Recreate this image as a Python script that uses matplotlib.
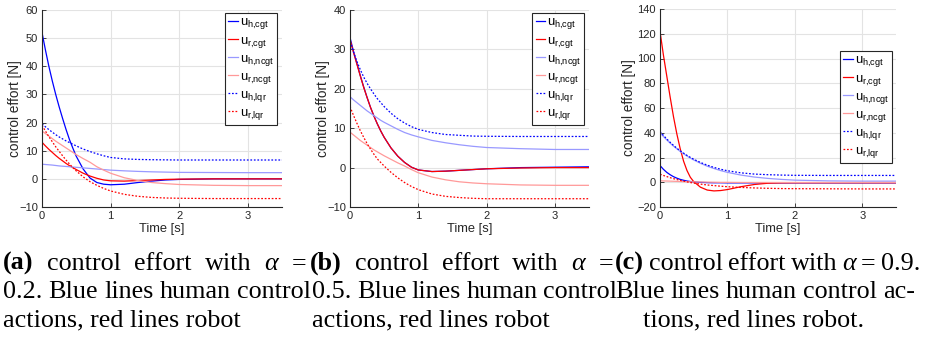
import matplotlib
matplotlib.use('Agg')
import matplotlib.pyplot as plt

# time samples [s]
t = [0, 0.05, 0.1, 0.15, 0.2, 0.25, 0.3, 0.35, 0.4, 0.45, 0.5, 0.6, 0.7, 0.8, 0.9, 1.0,
     1.2, 1.4, 1.6, 1.8, 2.0, 2.5, 3.0, 3.5]

# (a) alpha = 0.2
a_h_cgt = [52, 45.8, 40, 34.8, 30, 25.6, 21.5, 17.6, 14, 10.9, 8, 3.5, 0.3, -1.3, -1.9, -2.1,
           -1.9, -1.3, -0.8, -0.4, -0.2, 0, 0, 0]
a_r_cgt = [13, 11.7, 10.5, 9.4, 8.3, 7.3, 6.4, 5.5, 4.7, 4.0, 3.3, 2.0, 1.0, 0.2, -0.4, -0.7,
           -0.8, -0.6, -0.4, -0.2, -0.1, 0, 0, 0]
a_h_ncgt = [5.2, 5.1, 5.0, 4.9, 4.75, 4.6, 4.5, 4.4, 4.3, 4.2, 4.1, 3.9, 3.7, 3.5, 3.3, 3.1,
            2.85, 2.65, 2.5, 2.4, 2.3, 2.25, 2.2, 2.2]
a_r_ncgt = [17, 16.1, 15.2, 14.3, 13.4, 12.6, 11.8, 11.0, 10.2, 9.4, 8.6, 7.2, 5.9, 4.3, 3.1, 2.0,
            0.4, -0.6, -1.3, -1.7, -2.0, -2.3, -2.4, -2.4]
a_h_lqr = [19.5, 18.5, 17.5, 16.6, 15.7, 14.9, 14.2, 13.5, 12.9, 12.3, 11.7, 10.6, 9.7, 8.9, 8.2, 7.6,
           7.1, 6.9, 6.8, 6.75, 6.7, 6.7, 6.7, 6.7]
a_r_lqr = [19, 17, 15, 13.2, 11.4, 9.8, 8.2, 6.7, 5.3, 4.0, 2.8, 0.7, -1.0, -2.3, -3.4, -4.3,
           -5.5, -6.2, -6.6, -6.8, -6.9, -7.0, -7.0, -7.0]

# (b) alpha = 0.5
b_h_cgt = [33, 29.6, 26.5, 23.4, 20.5, 17.8, 15.3, 13.1, 11.1, 9.3, 7.7, 5.0, 2.9, 1.3, 0.1, -0.6,
           -1.0, -0.9, -0.7, -0.5, -0.3, 0, 0.1, 0.2]
b_r_cgt = [32.5, 29.3, 26.3, 23.3, 20.4, 17.8, 15.3, 13.1, 11.1, 9.3, 7.7, 5.0, 2.9, 1.3, 0.1, -0.6,
           -1.0, -0.9, -0.7, -0.5, -0.3, -0.1, 0, 0]
b_h_ncgt = [18, 17.2, 16.5, 15.8, 15.1, 14.4, 13.8, 13.2, 12.6, 12.0, 11.5, 10.6, 9.7, 8.9, 8.3, 7.8,
            6.9, 6.3, 5.8, 5.4, 5.1, 4.8, 4.6, 4.6]
b_r_ncgt = [9, 8.3, 7.6, 6.9, 6.3, 5.7, 5.1, 4.5, 4.0, 3.5, 3.0, 2.1, 1.2, 0.4, -0.5, -1.3,
            -2.4, -3.1, -3.6, -3.9, -4.1, -4.4, -4.5, -4.5]
b_h_lqr = [32, 29.4, 27, 24.9, 23, 21.4, 20, 18.7, 17.5, 16.5, 15.5, 13.8, 12.4, 11.3, 10.4, 9.7,
           8.9, 8.4, 8.2, 8.0, 7.95, 7.9, 7.9, 7.9]
b_r_lqr = [15.5, 13.3, 11.3, 9.4, 7.7, 6.1, 4.7, 3.4, 2.2, 1.3, 0.4, -1.2, -2.6, -3.8, -4.8, -5.6,
           -6.7, -7.3, -7.6, -7.8, -7.9, -7.9, -7.9, -7.9]

# (c) alpha = 0.9
c_h_cgt = [13.5, 10.5, 8.0, 6.1, 4.5, 3.3, 2.3, 1.6, 1.0, 0.6, 0.3, -0.1, -0.3, -0.4, -0.4, -0.5,
           -0.5, -0.5, -0.5, -0.5, -0.5, -0.5, -0.5, -0.5]
c_r_cgt = [122, 103, 86, 69, 53, 39, 27, 17, 9.5, 4, 0.5, -4, -6.3, -7, -6.7, -5.9,
           -3.6, -1.8, -0.8, -0.5, -0.4, -0.4, -0.4, -0.4]
c_h_ncgt = [40, 37, 34.2, 31.6, 29.2, 27, 24.9, 23, 21.2, 19.5, 18.0, 15.3, 13.0, 11.1, 9.4, 8.0,
            5.8, 4.2, 3.1, 2.3, 1.7, 1.1, 0.9, 0.9]
c_r_ncgt = [1.2, 1.1, 1.0, 0.9, 0.8, 0.7, 0.6, 0.5, 0.4, 0.35, 0.3, 0.2, 0.1, 0, -0.1, -0.1,
            -0.2, -0.2, -0.2, -0.2, -0.2, -0.2, -0.2, -0.2]
c_h_lqr = [41, 37.9, 35, 32.3, 29.8, 27.5, 25.4, 23.5, 21.7, 20.1, 18.6, 16.0, 13.8, 12.0, 10.5, 9.3,
           7.6, 6.6, 6.1, 5.8, 5.6, 5.5, 5.5, 5.5]
c_r_lqr = [6.5, 5.5, 4.6, 3.7, 2.9, 2.2, 1.5, 0.9, 0.3, -0.2, -0.7, -1.5, -2.2, -2.7, -3.2, -3.6,
           -4.2, -4.6, -4.9, -5.1, -5.2, -5.3, -5.4, -5.4]

labels = [r'$\mathregular{u_{h{,}cgt}}$', r'$\mathregular{u_{r{,}cgt}}$',
          r'$\mathregular{u_{h{,}ncgt}}$', r'$\mathregular{u_{r{,}ncgt}}$',
          r'$\mathregular{u_{h{,}lqr}}$', r'$\mathregular{u_{r{,}lqr}}$']

plt.rcParams['font.family'] = ['Liberation Sans', 'DejaVu Sans']
plt.rcParams['mathtext.fontset'] = 'custom'
plt.rcParams['mathtext.rm'] = 'Liberation Sans'

W, H = 930, 337
fig = plt.figure(figsize=(W / 100, H / 100), dpi=100)

def px_box(l, r, top, bot):
    return [l / W, 1 - bot / H, (r - l) / W, (bot - top) / H]

dot = (0, (1.4, 1.4))
styles = [dict(color='#0000ff', ls='-'), dict(color='#ff0000', ls='-'),
          dict(color='#9999ff', ls='-'), dict(color='#ff9999', ls='-'),
          dict(color='#0000ff', ls=dot), dict(color='#ff0000', ls=dot)]

panels = [
    (px_box(42, 282, 10, 207), (-10, 60), 10, [a_h_cgt, a_r_cgt, a_h_ncgt, a_r_ncgt, a_h_lqr, a_r_lqr], (0.979, 0.985), -0.085),
    (px_box(350, 589, 10, 207), (-10, 40), 10, [b_h_cgt, b_r_cgt, b_h_ncgt, b_r_ncgt, b_h_lqr, b_r_lqr], (0.98, 0.985), -0.085),
    (px_box(660, 896, 9, 207), (-20, 140), 20, [c_h_cgt, c_r_cgt, c_h_ncgt, c_r_ncgt, c_h_lqr, c_r_lqr], (0.983, 0.788), -0.10),
]

dark = '#262626'
for rect, ylim, ystep, series, anchor, ylab_x in panels:
    ax = fig.add_axes(rect)
    for y, st in zip(series, styles):
        ax.plot(t, y, lw=0.9, **st)
    ax.set_xlim(0, 3.5)
    ax.set_ylim(*ylim)
    ax.set_xticks([0, 1, 2, 3])
    ax.set_yticks(range(ylim[0], ylim[1] + 1, ystep))
    ax.grid(True, color='#e3e3e3', lw=0.8)
    ax.set_axisbelow(True)
    for s in ['top', 'right']:
        ax.spines[s].set_visible(False)
    for s in ['left', 'bottom']:
        ax.spines[s].set_color(dark)
        ax.spines[s].set_linewidth(0.8)
    ax.tick_params(direction='in', length=3, width=0.6, colors=dark, labelsize=8, pad=3)
    ax.set_xlabel('Time [s]', fontsize=9.3, color=dark, labelpad=1)
    ax.set_ylabel('control effort [N]', fontsize=9.8, color=dark)
    ax.yaxis.set_label_coords(ylab_x, 0.5)
    leg = ax.legend(labels, loc='upper right', bbox_to_anchor=anchor, borderaxespad=0,
                    fontsize=9.4, handlelength=0.75, handletextpad=0.1, labelspacing=0.22,
                    borderpad=0.25, fancybox=False, framealpha=1, edgecolor=dark)
    leg.get_frame().set_linewidth(0.8)

# captions: justified lines, words spread between a start and an end pixel
serif = ['Liberation Serif', 'DejaVu Serif']
fs = 18.8
renderer = fig.canvas.get_renderer()

def line(x0, x1, y, words):
    texts = []
    for w in words:
        s, kw = (w, {}) if isinstance(w, str) else w
        texts.append(fig.text(0, 1 - y / H, s, fontsize=fs, family=serif, ha='left', va='baseline', **kw))
    widths = [tx.get_window_extent(renderer).width for tx in texts]
    if x1 is None or len(texts) == 1:
        gap = 0
    else:
        gap = (x1 - x0 - sum(widths)) / (len(texts) - 1)
    x = x0
    for tx, wd in zip(texts, widths):
        tx.set_x(x / W)
        x += wd + gap

y1, y2, y3 = 270, 298, 326
bold = {'weight': 'bold'}
ital = {'style': 'italic'}
line(3, 306, y1, [('(a)', bold), 'control', 'effort', 'with', ('α', ital), '='])
line(3, 311, y2, ['0.2.', 'Blue', 'lines', 'human', 'control'])
line(3, None, y3, ['actions, red lines robot'])

line(310, 613, y1, [('(b)', bold), 'control', 'effort', 'with', ('α', ital), '='])
line(312, 617, y2, ['0.5.', 'Blue', 'lines', 'human', 'control'])
line(312, None, y3, ['actions, red lines robot'])

line(615, 920, y1, [('(c)', bold), 'control', 'effort', 'with', ('α', ital), '=', '0.9.'])
line(615, 915, y2, ['Blue', 'lines', 'human', 'control', 'ac-'])
line(643, None, y3, ['tions, red lines robot.'])

fig.savefig('out.png', dpi=100)
